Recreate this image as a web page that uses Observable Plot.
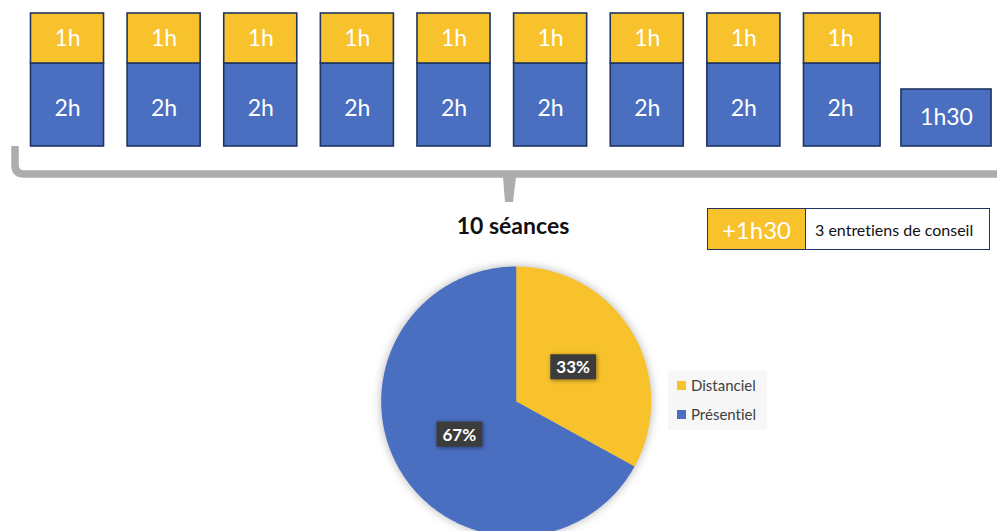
<!DOCTYPE html>
<html><head><meta charset="utf-8">
<script src="https://cdn.jsdelivr.net/npm/d3@7"></script>
<script src="https://cdn.jsdelivr.net/npm/@observablehq/plot@0.6"></script>
<style>
body{margin:0;background:#fff;font-family:Lato,"Open Sans",sans-serif;font-variant-ligatures:none;}
#wrap{position:relative;width:997px;height:531px;overflow:hidden;}
.abs{position:absolute;}
text{font-variant-ligatures:none;}
</style></head><body><div id="wrap"></div>
<script>
// ---- data ----
const sessions = ["S1","S2","S3","S4","S5","S6","S7","S8","S9","S10"];
const presentielHours = [2,2,2,2,2,2,2,2,2,1.5];
const distancielHours = [1,1,1,1,1,1,1,1,1,0];
const presentielLabels = ["2h","2h","2h","2h","2h","2h","2h","2h","2h","1h30"];
const distancielLabels = ["1h","1h","1h","1h","1h","1h","1h","1h","1h",""];
const pieCategories = ["Distanciel","Présentiel"];
const pieShares = [33,67];
const pieLabels = ["33%","67%"];
const titleText = "10 séances";
const extraDuration = "+1h30";
const extraText = "3 entretiens de conseil";

// ---- styles ----
const YELLOW = "#f7c22c", BLUE = "#4a6ec0", NAVY = "#1f3560", GRAY = "#adadad";
const FONT = "Lato, 'Open Sans', sans-serif";
const wrap = document.getElementById("wrap");

// ---- top bars ----
const segments = sessions.flatMap((s, i) => {
  const out = [{i, mode: "Présentiel", y1: 0, y2: presentielHours[i], label: presentielLabels[i]}];
  if (distancielHours[i] > 0) out.push({i, mode: "Distanciel", y1: presentielHours[i], y2: presentielHours[i] + distancielHours[i], label: distancielLabels[i]});
  return out;
});
const hw = d => distancielHours[d.i] === 0 ? 0.425 : 0.378;

const bars = Plot.plot({
  width: 997, height: 200, margin: 0,
  style: {background: "transparent", fontFamily: FONT},
  x: {type: "linear", domain: [0, 8, 9], range: [67, 840, 946], axis: null},
  y: {type: "linear", domain: [0, 1.5, 2, 3], range: [146, 89, 63, 13], axis: null},
  color: {domain: pieCategories, range: [YELLOW, BLUE]},
  marks: [
    Plot.rect(segments, {x1: d => d.i - hw(d), x2: d => d.i + hw(d), y1: "y1", y2: "y2", fill: "mode", stroke: NAVY, strokeWidth: 1.6}),
    Plot.text(segments, {x: "i", y: d => (d.y1 + d.y2) / 2, text: "label", fill: "white", fontSize: 23, fontFamily: FONT})
  ]
});
bars.classList.add("abs");
bars.style.left = "0px"; bars.style.top = "0px";
wrap.appendChild(bars);

// ---- bracket (decoration) ----
const br = d3.create("svg").attr("width", 997).attr("height", 210).attr("class", "abs")
  .style("left", "0px").style("top", "0px");
br.append("path")
  .attr("d", "M15,146 V165 Q15,174 24,174 H1005")
  .attr("fill", "none").attr("stroke", GRAY).attr("stroke-width", 7.5);
br.append("path")
  .attr("d", "M503,177 L505,202 L513,202 L516,177 Z M500,172 Q509,172 509,178 Q509,172 519,172 Z")
  .attr("fill", GRAY);
wrap.appendChild(br.node());

// ---- title ----
const title = document.createElement("div");
title.className = "abs";
Object.assign(title.style, {left: "413px", top: "211px", width: "200px", textAlign: "center",
  fontWeight: "bold", fontSize: "23px", color: "#111", fontFamily: FONT});
title.textContent = titleText;
wrap.appendChild(title);

// ---- extra box ----
const box = document.createElement("div");
box.className = "abs";
Object.assign(box.style, {left: "707px", top: "208px", width: "283px", height: "42px", boxSizing: "border-box",
  border: "1.6px solid " + NAVY, display: "flex", fontFamily: FONT});
const b1 = document.createElement("div");
Object.assign(b1.style, {width: "97px", background: YELLOW, borderRight: "1.6px solid " + NAVY, color: "white",
  fontSize: "24px", display: "flex", alignItems: "center", justifyContent: "center"});
b1.textContent = extraDuration;
const b2 = document.createElement("div");
Object.assign(b2.style, {flex: "1", background: "white", color: "#111", fontSize: "16px",
  display: "flex", alignItems: "center", paddingLeft: "9px"});
b2.textContent = extraText;
box.appendChild(b1); box.appendChild(b2);
wrap.appendChild(box);

// ---- pie ----
const pieData = pieCategories.map((c, k) => ({cat: c, share: pieShares[k], label: pieLabels[k]}));
const arcs = d3.pie().sort(null).value(d => d.share)(pieData);
const piePts = arcs.flatMap(a => {
  const pts = [{cat: a.data.cat, x: 0, y: 0}];
  const n = Math.max(2, Math.ceil((a.endAngle - a.startAngle) / (Math.PI / 360)));
  for (let j = 0; j <= n; j++) {
    const t = a.startAngle + (a.endAngle - a.startAngle) * j / n;
    pts.push({cat: a.data.cat, x: Math.sin(t), y: Math.cos(t)});
  }
  pts.push({cat: a.data.cat, x: 0, y: 0});
  return pts;
});
const labelPts = arcs.map(a => {
  const m = (a.startAngle + a.endAngle) / 2;
  return {x: 0.49 * Math.sin(m), y: 0.49 * Math.cos(m), text: a.data.label};
});
const pie = Plot.plot({
  width: 300, height: 276, margin: 0,
  style: {background: "transparent", fontFamily: FONT, overflow: "visible"},
  x: {domain: [-1, 1], range: [10.7, 280.7], axis: null},
  y: {domain: [-1, 1], range: [281, 11], axis: null},
  color: {domain: pieCategories, range: [YELLOW, BLUE]},
  marks: [
    Plot.line(piePts, {x: "x", y: "y", z: "cat", fill: "cat", stroke: "none", curve: "linear"}),
    Plot.text(labelPts, {x: "x", y: "y", text: "text", fill: "white", fontWeight: "bold", fontSize: 17, fontFamily: FONT})
  ]
});
pie.classList.add("abs");
pie.style.left = "370px"; pie.style.top = "255px";
wrap.appendChild(pie);
const lineG = pie.querySelector('g[aria-label="line"]');
if (lineG) lineG.style.filter = "drop-shadow(0px 0px 5px rgba(0,0,0,0.3))";
const textG = pie.querySelector('g[aria-label="text"]');
if (textG) {
  textG.querySelectorAll("text").forEach(t => {
    const bb = t.getBBox();
    const r = document.createElementNS("http://www.w3.org/2000/svg", "rect");
    r.setAttribute("x", bb.x - 6); r.setAttribute("y", bb.y - 2);
    r.setAttribute("width", bb.width + 12); r.setAttribute("height", bb.height + 4);
    r.setAttribute("fill", "#3c3c3c");
    r.style.filter = "drop-shadow(1px 1px 2px rgba(0,0,0,0.45))";
    if (t.getAttribute("transform")) r.setAttribute("transform", t.getAttribute("transform"));
    textG.insertBefore(r, t);
  });
}

// ---- legend ----
const leg = document.createElement("div");
leg.className = "abs";
Object.assign(leg.style, {left: "668px", top: "371px", width: "99px", height: "59px", background: "#f7f7f7",
  fontFamily: FONT, fontSize: "15px", color: "#404040"});
pieCategories.forEach((c, k) => {
  const row = document.createElement("div");
  Object.assign(row.style, {position: "absolute", left: "9px", top: (5 + k * 29) + "px", display: "flex", alignItems: "center", height: "18px"});
  const sw = document.createElement("span");
  Object.assign(sw.style, {display: "inline-block", width: "9px", height: "9px", background: [YELLOW, BLUE][k], marginRight: "5px"});
  const tx = document.createElement("span");
  tx.textContent = c;
  row.appendChild(sw); row.appendChild(tx);
  leg.appendChild(row);
});
wrap.appendChild(leg);
</script></body></html>
